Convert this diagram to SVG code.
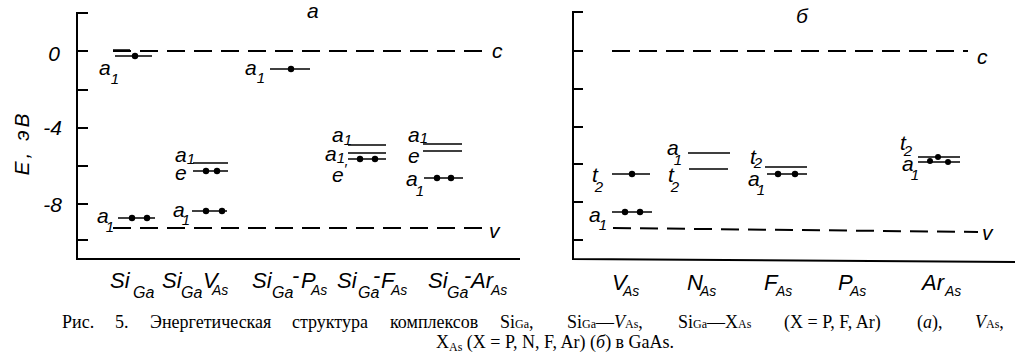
<svg xmlns="http://www.w3.org/2000/svg" width="1019" height="354" viewBox="0 0 1019 354">
<style>
.ax{stroke:#000;stroke-width:2;fill:none}
.dash{stroke:#000;stroke-width:2;stroke-dasharray:18 9;fill:none}
.lv{stroke:#000;stroke-width:1.6;fill:none}
.dot{fill:#000}
.lbl{font-family:"Liberation Sans",sans-serif;font-style:italic;font-size:21px;fill:#000}
.sub{font-size:15px}
.bl{font-family:"Liberation Sans",sans-serif;font-style:italic;font-size:22px;fill:#000}
.bs{font-size:16px}
.bs2{font-size:14px}
.cap{font-family:"Liberation Serif",serif;font-size:18px;fill:#000}
.cs{font-size:12px}
</style>
<rect width="1019" height="354" fill="#fff"/>
<g id="axes-a">
<path class="ax" d="M88,13 H77 V259 H520"/>
<path class="ax" d="M77,51 H88 M77,90 H88 M77,128 H88 M77,166 H88 M77,204 H88 M77,240 H88"/>
<text class="lbl" x="60" y="61" text-anchor="end">0</text>
<text class="lbl" x="62" y="135" text-anchor="end">-4</text>
<text class="lbl" x="62" y="212" text-anchor="end">-8</text>
<text class="lbl" transform="translate(29,143) rotate(-90)" text-anchor="middle" font-size="24" letter-spacing="3">E, эВ</text>
<text class="lbl" x="307" y="18" font-size="25">а</text>
</g>
<g id="axes-b">
<path class="ax" d="M583,12 H573 V259 L1015,262"/>
<path class="ax" d="M573,51 H583 M573,89 H583 M573,127 H583 M573,164 H583 M573,202 H583 M573,240 H583"/>
<text class="lbl" x="796" y="23" font-size="25">б</text>
</g>
<g id="connectors">
<path class="dash" d="M113,51 H487"/>
<path class="dash" d="M113,228 H484"/>
<path class="dash" d="M612,51 H968" stroke-dasharray="22 10"/>
<path class="dash" d="M613,228 L978,232" stroke-dasharray="22 10"/>
</g>
<g id="bands">
<text class="lbl" x="492" y="58" font-size="23">c</text>
<text class="lbl" x="489" y="238" font-size="23">v</text>
<text class="lbl" x="977" y="64" font-size="23">c</text>
<text class="lbl" x="982" y="240" font-size="23">v</text>
</g>
<g id="SiGa">
<path class="lv" d="M113,50 H130 M115,56 H152"/>
<circle class="dot" cx="135" cy="56" r="3.2"/>
<text class="lbl" x="99" y="75">a<tspan class="sub" dy="9">1</tspan></text>
<path class="lv" d="M118,218 H155"/>
<circle class="dot" cx="132" cy="218" r="3.2"/><circle class="dot" cx="147" cy="218" r="3.2"/>
<text class="lbl" x="97" y="223">a<tspan class="sub" dy="9" dx="-3">1</tspan></text>
<text class="bl" y="288"><tspan x="110">Si</tspan><tspan class="bs" x="133" y="298">Ga</tspan></text>
</g>
<g id="SiGa-VAs">
<path class="lv" d="M193,163 H228 M193,171 H228"/>
<circle class="dot" cx="206" cy="171" r="3.2"/><circle class="dot" cx="217" cy="171" r="3.2"/>
<text class="lbl" x="175" y="162">a<tspan class="sub" dy="2">1</tspan></text>
<text class="lbl" x="175" y="180">e</text>
<path class="lv" d="M192,211 H227"/>
<circle class="dot" cx="206" cy="211" r="3.2"/><circle class="dot" cx="222" cy="211" r="3.2"/>
<text class="lbl" x="173" y="217">a<tspan class="sub" dy="8" dx="-3">1</tspan></text>
<text class="bl" y="288"><tspan x="162">Si</tspan><tspan class="bs" x="181" y="298">Ga</tspan><tspan x="203" y="288">V</tspan><tspan class="bs2" x="212" y="295">As</tspan></text>
</g>
<g id="SiGa-PAs">
<path class="lv" d="M270,69 H310"/>
<circle class="dot" cx="291" cy="69" r="3.2"/>
<text class="lbl" x="245" y="75">a<tspan class="sub" dy="8">1</tspan></text>
<text class="bl" y="288"><tspan x="252">Si</tspan><tspan class="bs" x="272" y="298">Ga</tspan><tspan x="292" y="283">-</tspan><tspan x="301" y="288">P</tspan><tspan class="bs2" x="311" y="295">As</tspan></text>
</g>
<g id="SiGa-FAs">
<path class="lv" d="M348,145 H386 M348,153 H386 M348,159 H386"/>
<circle class="dot" cx="360" cy="159" r="3.2"/><circle class="dot" cx="375" cy="159" r="3.2"/>
<text class="lbl" x="332" y="142">a<tspan class="sub" dy="3">1</tspan></text>
<text class="lbl" x="325" y="161">a<tspan class="sub" dy="2">1</tspan></text>
<text class="lbl" x="332" y="182">e<tspan class="sub" dy="-8">′</tspan></text>
<text class="bl" y="288"><tspan x="337">Si</tspan><tspan class="bs" x="358" y="298">Ga</tspan><tspan x="373" y="283">-</tspan><tspan x="381" y="288">F</tspan><tspan class="bs2" x="391" y="295">As</tspan></text>
</g>
<g id="SiGa-ArAs">
<path class="lv" d="M423,144 H462 M423,151 H462"/>
<text class="lbl" x="408" y="142">a<tspan class="sub" dy="1">1</tspan></text>
<text class="lbl" x="408" y="163">e</text>
<path class="lv" d="M424,178 H463"/>
<circle class="dot" cx="437" cy="178" r="3.2"/><circle class="dot" cx="451" cy="178" r="3.2"/>
<text class="lbl" x="406" y="186">a<tspan class="sub" dy="10" dx="-2">1</tspan></text>
<text class="bl" y="288"><tspan x="428">Si</tspan><tspan class="bs" x="447" y="298">Ga</tspan><tspan x="464" y="283">-</tspan><tspan x="471" y="288">Ar</tspan><tspan class="bs2" x="491" y="295">As</tspan></text>
</g>
<g id="VAs">
<path class="lv" d="M612,174 H650"/>
<circle class="dot" cx="632" cy="174" r="3.2"/>
<text class="lbl" x="592" y="182">t<tspan class="sub" dy="10" dx="-3">2</tspan></text>
<path class="lv" d="M612,212 H652"/>
<circle class="dot" cx="625" cy="212" r="3.2"/><circle class="dot" cx="640" cy="212" r="3.2"/>
<text class="lbl" x="589" y="222">a<tspan class="sub" dy="8" dx="-2">1</tspan></text>
<text class="bl" y="290" font-size="24"><tspan x="612">V</tspan><tspan class="bs2" x="623" y="296">As</tspan></text>
</g>
<g id="NAs">
<path class="lv" d="M688,153 H730 M689,169 H728"/>
<text class="lbl" x="667" y="155">a<tspan class="sub" dy="10" dx="-5">1</tspan></text>
<text class="lbl" x="668" y="182">t<tspan class="sub" dy="10" dx="-3">2</tspan></text>
<text class="bl" y="290" font-size="24"><tspan x="687">N</tspan><tspan class="bs2" x="700" y="296">As</tspan></text>
</g>
<g id="FAs">
<path class="lv" d="M765,167 H807 M767,174 H807"/>
<circle class="dot" cx="778" cy="174" r="3.2"/><circle class="dot" cx="795" cy="174" r="3.2"/>
<text class="lbl" x="750" y="164">t<tspan class="sub" dy="4" dx="-2">2</tspan></text>
<text class="lbl" x="748" y="186">a<tspan class="sub" dy="9" dx="-3">1</tspan></text>
<text class="bl" y="290" font-size="24"><tspan x="764">F</tspan><tspan class="bs2" x="776" y="296">As</tspan></text>
</g>
<g id="PAs">
<text class="bl" y="290" font-size="24"><tspan x="838">P</tspan><tspan class="bs2" x="850" y="296">As</tspan></text>
</g>
<g id="ArAs">
<path class="lv" d="M918,157 H960 M918,162 H960"/>
<circle class="dot" cx="930" cy="161" r="3"/><circle class="dot" cx="938" cy="157" r="3"/><circle class="dot" cx="948" cy="162" r="3"/>
<text class="lbl" x="900" y="150">t<tspan class="sub" dy="6" dx="-2">2</tspan></text>
<text class="lbl" x="902" y="171">a<tspan class="sub" dy="9" dx="-3">1</tspan></text>
<text class="bl" y="290" font-size="24"><tspan x="922">Ar</tspan><tspan class="bs2" x="945" y="296">As</tspan></text>
</g>
<g id="caption">
<text class="cap" y="328"><tspan x="62">Рис.</tspan><tspan x="115">5.</tspan><tspan x="150">Энергетическая</tspan><tspan x="292">структура</tspan><tspan x="390">комплексов</tspan><tspan x="500">Si</tspan><tspan class="cs">Ga</tspan><tspan>,</tspan><tspan x="567">Si</tspan><tspan class="cs">Ga</tspan><tspan>—</tspan><tspan font-style="italic">V</tspan><tspan class="cs">As</tspan><tspan>,</tspan><tspan x="678">Si</tspan><tspan class="cs">Ga</tspan><tspan>—X</tspan><tspan class="cs">As</tspan><tspan x="784">(X = P, F, Ar)</tspan><tspan x="917">(</tspan><tspan font-style="italic">а</tspan><tspan>),</tspan><tspan x="975" font-style="italic">V</tspan><tspan class="cs">As</tspan><tspan>,</tspan></text>
<text class="cap" y="348"><tspan x="436">X</tspan><tspan class="cs" dy="3">As</tspan><tspan dy="-3"> (X = P, N, F, Ar) (</tspan><tspan font-style="italic">б</tspan><tspan>) в GaAs.</tspan></text>
</g>
</svg>
